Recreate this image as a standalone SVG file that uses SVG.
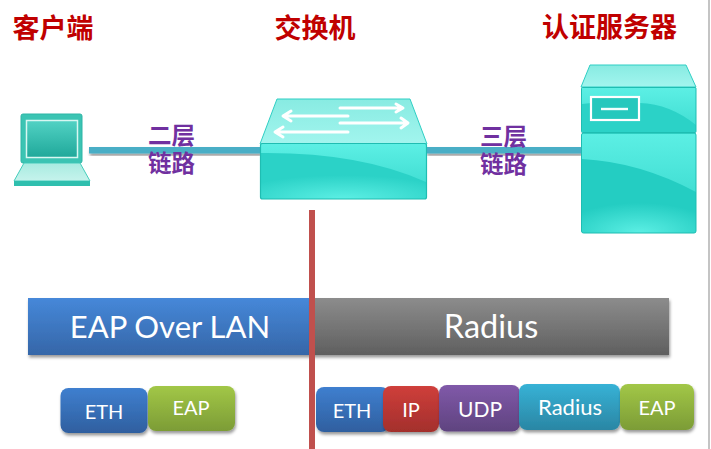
<svg xmlns="http://www.w3.org/2000/svg" width="711" height="449" viewBox="0 0 711 449">
<style>
.h{font:bold 27px "Noto Sans CJK SC",sans-serif;fill:#c00000;text-anchor:middle}
.l{font:bold 23.500px "Noto Sans CJK SC",sans-serif;fill:#7030a0;text-anchor:middle}
.t{font-family:Lato,"Open Sans",sans-serif;fill:#fff;text-anchor:middle}
.b{font-size:31px}.c{font-size:20px}
.ar{fill:none;stroke:#fff;stroke-width:3;stroke-linecap:round;stroke-linejoin:round}
</style>
<defs>
<filter id="s" x="-10%" y="-20%" width="120%" height="150%"><feDropShadow dx="1" dy="2.500" stdDeviation="1.500" flood-color="#000" flood-opacity=".4"/></filter>
<linearGradient id="gb" x1="0" y1="0" x2="0" y2="1"><stop offset="0" stop-color="#4688d9"/><stop offset="1" stop-color="#3566a8"/></linearGradient>
<linearGradient id="gg" x1="0" y1="0" x2="0" y2="1"><stop offset="0" stop-color="#8c8c8c"/><stop offset="1" stop-color="#5f5f5f"/></linearGradient>
<linearGradient id="cb" x1="0" y1="0" x2="0" y2="1"><stop offset="0" stop-color="#3f7fcf"/><stop offset="1" stop-color="#2f5f9f"/></linearGradient>
<linearGradient id="cg" x1="0" y1="0" x2="0" y2="1"><stop offset="0" stop-color="#a2c747"/><stop offset="1" stop-color="#7c9c36"/></linearGradient>
<linearGradient id="cr" x1="0" y1="0" x2="0" y2="1"><stop offset="0" stop-color="#cf3f3b"/><stop offset="1" stop-color="#a32f2c"/></linearGradient>
<linearGradient id="cp" x1="0" y1="0" x2="0" y2="1"><stop offset="0" stop-color="#8059a9"/><stop offset="1" stop-color="#5f437f"/></linearGradient>
<linearGradient id="cc" x1="0" y1="0" x2="0" y2="1"><stop offset="0" stop-color="#37b2d6"/><stop offset="1" stop-color="#2a86a4"/></linearGradient>
<linearGradient id="top" x1="0" y1="0" x2="0" y2="1"><stop offset="0" stop-color="#88ebe2"/><stop offset="1" stop-color="#a2f5ee"/></linearGradient>
<linearGradient id="hl" x1="0" y1="0" x2="0" y2="1"><stop offset="0" stop-color="#5cefe4"/><stop offset="1" stop-color="#42dfd4"/></linearGradient>
<radialGradient id="glow" cx=".5" cy="1" r=".7"><stop offset="0" stop-color="#5cefe4"/><stop offset="1" stop-color="#5cefe4" stop-opacity="0"/></radialGradient>
<linearGradient id="scr" x1="0" y1="0" x2="0" y2="1"><stop offset="0" stop-color="#52d2c4"/><stop offset="1" stop-color="#1fa89a"/></linearGradient>
<linearGradient id="kb" x1="0" y1="0" x2="0" y2="1"><stop offset="0" stop-color="#a8ebe1"/><stop offset="1" stop-color="#c6f3ec"/></linearGradient>
</defs>

<rect x="708" y="0" width="2" height="449" fill="#c4c4c4"/>

<g id="connectors">
<rect x="89" y="147" width="172" height="6.500" fill="#49aec6" filter="url(#s)"/>
<rect x="426" y="147" width="156" height="6.500" fill="#49aec6" filter="url(#s)"/>
</g>

<g id="title-client"><text class="h" x="53" y="38">客户端</text></g>
<g id="title-switch"><text class="h" x="315" y="38">交换机</text></g>
<g id="title-server"><text class="h" x="609.500" y="37">认证服务器</text></g>
<g id="link-l2"><text class="l" x="171.500" y="144">二层</text><text class="l" x="171.500" y="172">链路</text></g>
<g id="link-l3"><text class="l" x="503.500" y="145">三层</text><text class="l" x="503.500" y="173">链路</text></g>

<g id="client">
<rect x="21" y="114" width="61" height="49" rx="2" fill="#3bc4b3" stroke="#2fb5a6"/>
<rect x="26.500" y="120.500" width="51" height="37" fill="url(#scr)" stroke="#d8f7f2" stroke-width="1.500"/>
<path d="M24 163H80L90 181H14Z" fill="url(#kb)" stroke="#45cdbc"/>
<rect x="14" y="181" width="76" height="5" fill="#2fbfae"/>
</g>

<g id="switch">
<path d="M277 99H410L427 144H260Z" fill="url(#top)" stroke="#2fcfc4"/>
<rect x="260.500" y="143.500" width="166" height="55.500" rx="2" fill="#2bd2c7"/>
<path d="M261 144H426V182Q360 152 261 153Z" fill="url(#hl)"/>
<rect x="261" y="165" width="165" height="34" fill="url(#glow)"/>
<rect x="260.500" y="143.500" width="166" height="55.500" rx="2" fill="none" stroke="#1fbdb2" stroke-width="1.200"/>
<path class="ar" d="M340 108H402M396 104L403 108L396 112"/>
<path class="ar" d="M348 116H285M291 111L283 116L291 121"/>
<path class="ar" d="M340 123H407M401 118L408 123L401 128"/>
<path class="ar" d="M348 132H277M283 127L275 132L283 137"/>
</g>

<g id="server">
<path d="M590 65H686L696 87H581Z" fill="url(#top)" stroke="#2fcfc4"/>
<rect x="581.500" y="87.500" width="114.500" height="45" rx="1" fill="#2bd2c7"/>
<path d="M582 88H696V125Q670 104 640 103Q610 100 582 104Z" fill="url(#hl)"/>
<rect x="581.500" y="87.500" width="114.500" height="45" rx="1" fill="none" stroke="#1fbdb2"/>
<rect x="581.500" y="133" width="114.500" height="100" rx="2" fill="#24cdc2"/>
<path d="M582 133.500H696V192Q640 162 582 159Z" fill="url(#hl)"/>
<rect x="582" y="190" width="114" height="43" fill="url(#glow)"/>
<rect x="581.500" y="133" width="114.500" height="100" rx="2" fill="none" stroke="#1fbdb2"/>
<rect x="591" y="97" width="48" height="23" fill="#25c8bd" stroke="#fff" stroke-width="2.200"/>
<path d="M601 109H628" stroke="#f2fffd" stroke-width="2.400"/>
</g>

<g id="bar-eapol">
<rect x="28" y="298" width="282" height="57" fill="url(#gb)" filter="url(#s)"/>
<text class="t b" x="170" y="338">EAP Over LAN</text>
</g>
<g id="bar-radius">
<rect x="310" y="298" width="359" height="57" fill="url(#gg)" filter="url(#s)"/>
<text class="t b" x="491" y="338" font-size="32" style="font-size:32.500px">Radius</text>
</g>

<g id="chip-eth-l"><rect x="60.500" y="388" width="87" height="45" rx="8" fill="url(#cb)" filter="url(#s)"/><text class="t c" x="104" y="419">ETH</text></g>
<g id="chip-eap-l"><rect x="148" y="386" width="87" height="45" rx="8" fill="url(#cg)" filter="url(#s)"/><text class="t c" x="191" y="415">EAP</text></g>

<g id="chip-eth-r"><rect x="316" y="387" width="73" height="45" rx="8" fill="url(#cb)" filter="url(#s)"/><text class="t c" x="352" y="418">ETH</text></g>
<g id="chip-ip"><rect x="383" y="386" width="56" height="46" rx="8" fill="url(#cr)" filter="url(#s)"/><text class="t c" x="411" y="417">IP</text></g>
<g id="chip-udp"><rect x="439" y="385" width="81" height="46.500" rx="8" fill="url(#cp)" filter="url(#s)"/><text class="t c" x="480" y="417" style="font-size:21px">UDP</text></g>
<g id="chip-radius"><rect x="519" y="384" width="101" height="46" rx="8" fill="url(#cc)" filter="url(#s)"/><text class="t c" x="570" y="415" style="font-size:22px">Radius</text></g>
<g id="chip-eap-r"><rect x="620" y="384" width="74" height="46" rx="8" fill="url(#cg)" filter="url(#s)"/><text class="t c" x="657" y="415">EAP</text></g>

<rect id="divider" x="309" y="210" width="6" height="239" fill="#c0504d"/>
</svg>
